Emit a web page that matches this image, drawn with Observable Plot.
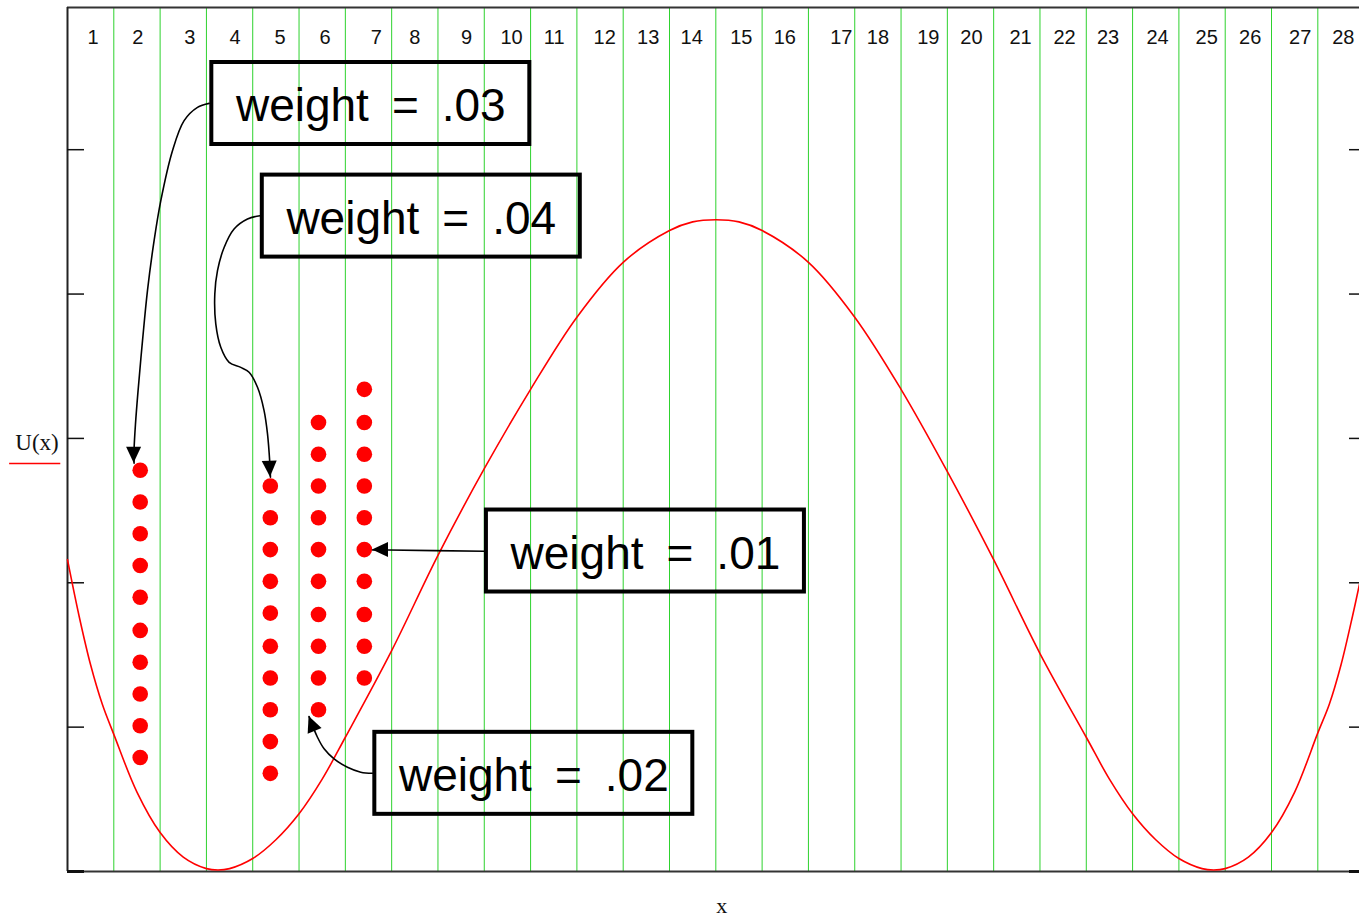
<!DOCTYPE html>
<html>
<head>
<meta charset="utf-8">
<script src="https://cdn.jsdelivr.net/npm/d3@7"></script>
<script src="https://cdn.jsdelivr.net/npm/@observablehq/plot@0.6"></script>
<style>
  html, body { margin: 0; padding: 0; background: #fff; }
  #chart svg { display: block; }
</style>
</head>
<body>
<div id="chart"></div>
<script>
// ---------- data ----------
const gridX = [1, 2, 3, 4, 5, 6, 7, 8, 9, 10, 11, 12, 13, 14, 15, 16, 17, 18, 19, 20, 21, 22, 23, 24, 25, 26, 27];

const topLabels = ["1","2","3","4","5","6","7","8","9","10","11","12","13","14","15","16","17","18","19","20","21","22","23","24","25","26","27","28"];
const topLabelX = [0.55, 1.52, 2.64, 3.62, 4.59, 5.56, 6.67, 7.50, 8.62, 9.59, 10.51, 11.60, 12.54, 13.48, 14.55, 15.49, 16.71, 17.50, 18.59, 19.52, 20.58, 21.53, 22.47, 23.54, 24.60, 25.54, 26.62, 27.55];

const yTicks = [0, 1, 2, 3, 4, 5];

const curveX = [0, 0.25, 0.5, 0.75, 1, 1.5, 2, 2.5, 3.0, 3.25, 3.5, 4, 4.5, 5, 5.5, 6, 7, 8, 9, 10, 11, 12, 13, 13.5, 14, 14.5, 15, 16, 17, 18, 19, 20, 21, 22, 22.5, 23, 23.5, 24, 24.5, 24.75, 25.0, 25.5, 26, 26.5, 27, 27.25, 27.5, 27.75, 27.9];
const curveU = [2.16, 1.77, 1.43, 1.16, 0.95, 0.55, 0.27, 0.10, 0.02, 0.01, 0.02, 0.09, 0.22, 0.40, 0.64, 0.93, 1.53, 2.19, 2.79, 3.34, 3.84, 4.22, 4.44, 4.50, 4.515, 4.50, 4.44, 4.22, 3.84, 3.34, 2.77, 2.16, 1.51, 0.93, 0.64, 0.40, 0.22, 0.09, 0.02, 0.01, 0.02, 0.10, 0.27, 0.55, 0.96, 1.16, 1.43, 1.77, 1.99];

const dotColumnX = [1.57, 4.38, 5.42, 6.41];
const dotColumn1 = [2.78, 2.56, 2.34, 2.12, 1.90, 1.67, 1.45, 1.23, 1.01, 0.79];
const dotColumn2 = [2.67, 2.45, 2.23, 2.01, 1.79, 1.56, 1.34, 1.12, 0.90, 0.68];
const dotColumn3 = [3.11, 2.89, 2.67, 2.45, 2.23, 2.01, 1.78, 1.56, 1.34, 1.12];
const dotColumn4 = [3.34, 3.11, 2.89, 2.67, 2.45, 2.23, 2.01, 1.78, 1.56, 1.34];

const noteLabels = ["weight\u2002=\u2002.03", "weight\u2002=\u2002.04", "weight\u2002=\u2002.01", "weight\u2002=\u2002.02"];
const noteX = [6.55, 7.64, 12.48, 10.07];
const noteY = [5.32, 4.54, 2.22, 0.68];

// arrow paths (last point = arrow tip)
const arrow03X = [3.058, 2.807, 2.518, 2.267, 2.015, 1.870, 1.727, 1.620, 1.524, 1.468, 1.438, 1.438];
const arrow03Y = [5.321, 5.293, 5.201, 4.993, 4.647, 4.370, 4.024, 3.677, 3.331, 3.100, 2.927, 2.828];
const arrow04X = [4.159, 3.887, 3.597, 3.382, 3.239, 3.181, 3.202, 3.310, 3.490, 3.742, 3.921, 4.103, 4.245, 4.319, 4.368, 4.383];
const arrow04Y = [4.543, 4.520, 4.451, 4.323, 4.162, 4.001, 3.793, 3.631, 3.527, 3.492, 3.458, 3.354, 3.193, 3.031, 2.834, 2.731];
const arrow01X = [9.005, 6.931, 6.586];
const arrow01Y = [2.218, 2.227, 2.227];
const arrow02X = [6.586, 6.333, 6.046, 5.757, 5.541, 5.398, 5.217];
const arrow02Y = [0.681, 0.688, 0.722, 0.780, 0.850, 0.930, 1.073];

// ---------- tables built from the arrays ----------
const curve = curveX.map((x, i) => ({x, u: curveU[i]}));
const dotCols = [dotColumn1, dotColumn2, dotColumn3, dotColumn4];
const dots = dotCols.flatMap((col, j) => col.map(u => ({x: dotColumnX[j], u})));
const notes = noteLabels.map((label, i) => ({label, x: noteX[i], y: noteY[i]}));
const arrows = [[arrow03X, arrow03Y], [arrow04X, arrow04Y], [arrow01X, arrow01Y], [arrow02X, arrow02Y]];
const arrowPts = arrows.flatMap(([xs, ys], k) => xs.map((x, i) => ({id: k, x, y: ys[i]})));
const topLab = topLabels.map((t, i) => ({t, x: topLabelX[i]}));

const xMax = 27.9, yMax = 5.985;
const boxW = 6.867, boxH = 0.568;
const sans = "'Liberation Sans', Arial, sans-serif";
const serif = "'Liberation Serif', 'Times New Roman', serif";

// filled arrowheads drawn through the plot's scales
function arrowHeads(index, scales) {
  const ns = "http://www.w3.org/2000/svg";
  const g = document.createElementNS(ns, "g");
  for (const [xs, ys] of arrows) {
    const n = xs.length;
    const tx = scales.x(xs[n - 1]), ty = scales.y(ys[n - 1]);
    const px = scales.x(xs[n - 2]), py = scales.y(ys[n - 2]);
    const a = Math.atan2(ty - py, tx - px);
    const L = 16, H = 7.5;
    const bx = tx - L * Math.cos(a), by = ty - L * Math.sin(a);
    const nx = -Math.sin(a) * H, ny = Math.cos(a) * H;
    const p = document.createElementNS(ns, "path");
    p.setAttribute("d", `M${tx},${ty}L${bx + nx},${by + ny}L${bx - nx},${by - ny}Z`);
    p.setAttribute("fill", "black");
    g.appendChild(p);
  }
  return g;
}

const chart = Plot.plot({
  width: 1359,
  height: 915,
  marginLeft: 67,
  marginRight: 0,
  marginTop: 7,
  marginBottom: 44,
  x: {domain: [0, xMax], axis: null},
  y: {domain: [0, yMax], axis: null},
  style: {background: "white", overflow: "visible"},
  marks: [
    Plot.ruleX(gridX, {stroke: "#2ed22e", strokeWidth: 1}),
    Plot.ruleY([yMax], {stroke: "#333", strokeWidth: 2}),
    Plot.ruleY([0], {stroke: "#333", strokeWidth: 2}),
    Plot.ruleX([0], {stroke: "#222", strokeWidth: 2}),
    Plot.ruleY(yTicks, {x1: 0, x2: 0.367, stroke: "#111", strokeWidth: d => d === 0 ? 3 : 1.5}),
    Plot.ruleY(yTicks, {x1: xMax - 0.216, x2: xMax, stroke: "#111", strokeWidth: d => d === 0 ? 3 : 1.5}),
    Plot.text(topLab, {x: "x", text: "t", frameAnchor: "top", lineAnchor: "middle", dy: 30, fontSize: 20, fontFamily: sans, fill: "#111"}),
    Plot.line(curve, {x: "x", y: "u", stroke: "#ff0000", strokeWidth: 1.6, curve: "catmull-rom"}),
    Plot.dot(dots, {x: "x", y: "u", r: 7.8, fill: "#ff0000"}),
    Plot.line(arrowPts, {x: "x", y: "y", z: "id", stroke: "black", strokeWidth: 1.6, curve: "catmull-rom"}),
    arrowHeads,
    Plot.rect(notes, {x1: d => d.x - boxW / 2, x2: d => d.x + boxW / 2, y1: d => d.y - boxH / 2, y2: d => d.y + boxH / 2, stroke: "black", strokeWidth: 4, fill: "none"}),
    Plot.text(notes, {x: "x", y: "y", text: "label", fontSize: 46, fontFamily: sans, fill: "black", dy: 3}),
    Plot.text(["U(x)"], {x: 0, y: 3, text: d => d, dx: -30.5, dy: 4, fontSize: 23, fontFamily: serif, fill: "#111", letterSpacing: 0.5}),
    Plot.ruleY([3], {x1: -1.25, x2: -0.145, dy: 25, stroke: "#ff0000", strokeWidth: 1.5}),
    Plot.text(["x"], {x: 14.13, y: 0, text: d => d, dy: 34, fontSize: 22, fontFamily: serif, fill: "#111"})
  ]
});
document.getElementById("chart").appendChild(chart);
</script>
</body>
</html>
